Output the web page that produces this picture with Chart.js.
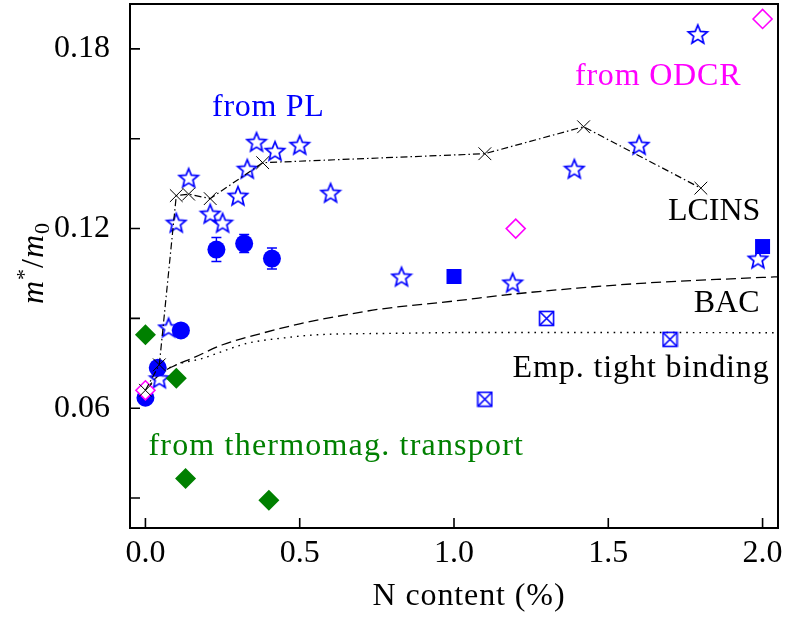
<!DOCTYPE html>
<html lang="en">
<head>
<meta charset="UTF-8">
<title>Electron effective mass vs N content</title>
<script src="https://cdn.jsdelivr.net/npm/chart.js"></script>
<style>
  html, body { margin: 0; padding: 0; background: #fff; }
  #wrap { width: 785px; height: 617px; position: relative; }
</style>
</head>
<body>
<div id="wrap"><canvas id="massChart"></canvas></div>
<script>
  // N content (%) and m*/m0, one pair of arrays per group of measurements
  const plStarX = [0.045, 0.075, 0.10, 0.14, 0.21, 0.25, 0.30, 0.33, 0.36, 0.42, 0.50, 0.60, 0.83, 1.19, 1.39, 1.60, 1.79, 1.985];
  const plStarY = [0.070, 0.087, 0.122, 0.137, 0.125, 0.122, 0.131, 0.140, 0.149, 0.146, 0.148, 0.132, 0.104, 0.102, 0.140, 0.148, 0.185, 0.110];
  const plDotX = [0.0, 0.04, 0.115, 0.23, 0.32, 0.41];
  const plDotY = [0.0635, 0.0735, 0.086, 0.113, 0.115, 0.110];
  const plDotErr = [0, 0, 0, 0.004, 0.003, 0.0035];
  const plSquareX = [1.0, 2.0];
  const plSquareY = [0.104, 0.114];
  const plBoxX = [1.1, 1.3, 1.7];
  const plBoxY = [0.063, 0.090, 0.083];
  const odcrX = [0.0, 1.2, 2.0];
  const odcrY = [0.066, 0.120, 0.190];
  const transportX = [0.0, 0.1, 0.13, 0.4];
  const transportY = [0.0845, 0.070, 0.0365, 0.0293];

  // calculated curves
  const lcinsX = [0.0, 0.045, 0.10, 0.14, 0.21, 0.38, 1.10, 1.42, 1.80];
  const lcinsY = [0.066, 0.0745, 0.131, 0.1315, 0.130, 0.142, 0.145, 0.154, 0.1335];
  const bacX = [0.0, 0.045, 0.10, 0.15, 0.25, 0.38, 0.50, 0.65, 0.76, 1.0, 1.19, 1.40, 1.62, 1.85, 2.05];
  const bacY = [0.066, 0.0712, 0.0745, 0.0766, 0.0812, 0.0851, 0.0882, 0.0912, 0.0931, 0.0958, 0.0981, 0.1001, 0.1018, 0.1030, 0.1039];
  const tbX = [0.0, 0.045, 0.10, 0.18, 0.25, 0.33, 0.45, 0.55, 0.80, 1.07, 1.50, 2.05];
  const tbY = [0.066, 0.0712, 0.0745, 0.0765, 0.0790, 0.0817, 0.0835, 0.0845, 0.0850, 0.0853, 0.0853, 0.0852];

  // axes
  const xTicks = [0.0, 0.5, 1.0, 1.5, 2.0];
  const yTicks = [0.03, 0.06, 0.09, 0.12, 0.15, 0.18];
  const yTickLabels = [0.06, 0.12, 0.18];

  const BLUE = '#0000ff', MAGENTA = '#ff00ff', GREEN = '#008000';
  const SERIF = '"Liberation Serif", "Times New Roman", serif';

  const pts = (xs, ys) => xs.map((x, i) => ({ x: x, y: ys[i] }));

  // open five-pointed star marker
  function starMarker(color) {
    const c = document.createElement('canvas');
    c.width = 24; c.height = 24;
    const g = c.getContext('2d');
    g.beginPath();
    for (let k = 0; k < 10; k++) {
      const r = k % 2 ? 4.4 : 10;
      const a = -Math.PI / 2 + k * Math.PI / 5;
      g.lineTo(12 + r * Math.cos(a), 13 + r * Math.sin(a));
    }
    g.closePath();
    g.strokeStyle = color;
    g.lineWidth = 1.7;
    g.stroke();
    return c;
  }

  // square with a cross inside
  function boxCrossMarker(color) {
    const c = document.createElement('canvas');
    c.width = 17; c.height = 17;
    const g = c.getContext('2d');
    g.strokeStyle = color;
    g.lineWidth = 1.6;
    g.strokeRect(1.5, 1.5, 14, 14);
    g.beginPath();
    g.moveTo(1.5, 1.5); g.lineTo(15.5, 15.5);
    g.moveTo(15.5, 1.5); g.lineTo(1.5, 15.5);
    g.stroke();
    return c;
  }

  const notes = [
    { text: 'from PL', x: 0.216, y: 0.1577, color: BLUE, align: 'left', spacing: 0.7 },
    { text: 'from ODCR', x: 1.392, y: 0.168, color: MAGENTA, align: 'left', spacing: 0.8 },
    { text: 'LCINS', x: 1.993, y: 0.1227, color: '#000', align: 'right', spacing: 0 },
    { text: 'BAC', x: 1.99, y: 0.0923, color: '#000', align: 'right', spacing: 0 },
    { text: 'Emp. tight binding', x: 2.023, y: 0.0704, color: '#000', align: 'right', spacing: 0.9 },
    { text: 'from thermomag. transport', x: 0.0097, y: 0.0444, color: GREEN, align: 'left', spacing: 1.2 }
  ];

  const errorBars = {
    id: 'errorBars',
    beforeDatasetsDraw(chart) {
      const { ctx, scales: { x, y } } = chart;
      ctx.save();
      ctx.strokeStyle = BLUE;
      ctx.lineWidth = 1.4;
      plDotX.forEach((v, i) => {
        if (!plDotErr[i]) return;
        const px = x.getPixelForValue(v);
        const top = y.getPixelForValue(plDotY[i] + plDotErr[i]);
        const bot = y.getPixelForValue(plDotY[i] - plDotErr[i]);
        ctx.beginPath();
        ctx.moveTo(px, top); ctx.lineTo(px, bot);
        ctx.moveTo(px - 5, top); ctx.lineTo(px + 5, top);
        ctx.moveTo(px - 5, bot); ctx.lineTo(px + 5, bot);
        ctx.stroke();
      });
      ctx.restore();
    }
  };

  const frameAndText = {
    id: 'frameAndText',
    afterDraw(chart) {
      const { ctx, chartArea: a, scales: { x, y } } = chart;
      ctx.save();
      // inward tick marks
      ctx.strokeStyle = '#000';
      ctx.lineWidth = 1.6;
      ctx.beginPath();
      xTicks.forEach(v => {
        const px = x.getPixelForValue(v);
        ctx.moveTo(px, a.bottom); ctx.lineTo(px, a.bottom - 10);
      });
      yTicks.forEach(v => {
        const py = y.getPixelForValue(v);
        ctx.moveTo(a.left, py); ctx.lineTo(a.left + 10, py);
      });
      ctx.stroke();
      // frame
      ctx.lineWidth = 2;
      ctx.strokeRect(a.left, a.top, a.right - a.left, a.bottom - a.top);

      // labels inside the plot
      ctx.font = '32px ' + SERIF;
      ctx.textBaseline = 'alphabetic';
      notes.forEach(n => {
        ctx.letterSpacing = n.spacing + 'px';
        ctx.fillStyle = n.color;
        ctx.textAlign = n.align;
        ctx.fillText(n.text, x.getPixelForValue(n.x), y.getPixelForValue(n.y));
      });

      // x title
      ctx.letterSpacing = '0.9px';
      ctx.fillStyle = '#000';
      ctx.textAlign = 'center';
      ctx.fillText('N content (%)', 469, 605);

      // y title: m*/m0
      ctx.letterSpacing = '0px';
      ctx.translate(43, 263);
      ctx.rotate(-Math.PI / 2);
      const parts = [
        { t: 'm', f: 'italic 32px ' + SERIF, dy: 0 },
        { t: '*', f: '22px ' + SERIF, dy: -12 },
        { t: '/', f: '32px ' + SERIF, dy: 0 },
        { t: 'm', f: 'italic 32px ' + SERIF, dy: 0 },
        { t: '0', f: '22px ' + SERIF, dy: 6 }
      ];
      let total = 0;
      parts.forEach(p => { ctx.font = p.f; p.w = ctx.measureText(p.t).width + 1; total += p.w; });
      let cx = -total / 2;
      ctx.textAlign = 'left';
      parts.forEach(p => {
        ctx.font = p.f;
        ctx.fillText(p.t, cx, p.dy);
        cx += p.w;
      });
      ctx.restore();
    }
  };

  const tickFont = { family: SERIF, size: 32 };

  new Chart(document.getElementById('massChart'), {
    type: 'scatter',
    data: {
      datasets: [
        {
          label: 'LCINS', data: pts(lcinsX, lcinsY), showLine: true,
          borderColor: '#000', borderWidth: 1.2, borderDash: [7, 3, 1.5, 3],
          pointStyle: 'crossRot', pointRadius: 9, pointBorderWidth: 1, pointBorderColor: '#000',
          pointBackgroundColor: 'transparent', tension: 0
        },
        {
          label: 'ODCR', data: pts(odcrX, odcrY),
          pointStyle: 'rectRot', pointRadius: 9.5, pointBorderWidth: 1.6,
          pointBorderColor: MAGENTA, pointBackgroundColor: '#fff'
        },
        {
          label: 'thermomagnetic transport', data: pts(transportX, transportY),
          pointStyle: 'rectRot', pointRadius: 10.5, pointBorderWidth: 0,
          pointBackgroundColor: GREEN, pointBorderColor: GREEN
        },
        {
          label: 'PL (boxed)', data: pts(plBoxX, plBoxY),
          pointStyle: boxCrossMarker(BLUE)
        },
        {
          label: 'PL (squares)', data: pts(plSquareX, plSquareY),
          pointStyle: 'rect', pointRadius: 10.6, pointBorderWidth: 0,
          pointBackgroundColor: BLUE, pointBorderColor: BLUE
        },
        {
          label: 'PL (stars)', data: pts(plStarX, plStarY),
          pointStyle: starMarker(BLUE)
        },
        {
          label: 'PL (dots)', data: pts(plDotX, plDotY),
          pointStyle: 'circle', pointRadius: 9, pointBorderWidth: 0,
          pointBackgroundColor: BLUE, pointBorderColor: BLUE
        },
        {
          label: 'BAC', data: pts(bacX, bacY), showLine: true,
          borderColor: '#000', borderWidth: 1.3, borderDash: [10, 5],
          pointRadius: 0, cubicInterpolationMode: 'monotone'
        },
        {
          label: 'Emp. tight binding', data: pts(tbX, tbY), showLine: true,
          borderColor: '#000', borderWidth: 1.4, borderDash: [1.6, 5],
          pointRadius: 0, cubicInterpolationMode: 'monotone'
        }
      ]
    },
    options: {
      responsive: true,
      maintainAspectRatio: false,
      animation: false,
      events: [],
      layout: { autoPadding: false, padding: { top: 4, right: 7, left: 0, bottom: 0 } },
      plugins: { legend: { display: false }, tooltip: { enabled: false } },
      scales: {
        x: {
          type: 'linear', min: -0.05, max: 2.05,
          grid: { display: false, drawTicks: false },
          border: { display: false },
          afterBuildTicks: ax => { ax.ticks = xTicks.map(v => ({ value: v })); },
          afterFit: ax => { ax.height = 89; ax.paddingLeft = 0; ax.paddingRight = 0; },
          ticks: {
            font: tickFont, color: '#000', padding: 6, maxRotation: 0, autoSkip: false,
            callback: v => v.toFixed(1)
          }
        },
        y: {
          type: 'linear', min: 0.02, max: 0.195,
          grid: { display: false, drawTicks: false },
          border: { display: false },
          afterBuildTicks: ax => { ax.ticks = yTicks.map(v => ({ value: v })); },
          afterFit: ax => { ax.width = 130; ax.paddingTop = 0; ax.paddingBottom = 0; },
          ticks: {
            font: tickFont, color: '#000', padding: 20, autoSkip: false,
            callback: v => yTickLabels.some(l => Math.abs(l - v) < 1e-6) ? v.toFixed(2) : ''
          }
        }
      }
    },
    plugins: [errorBars, frameAndText]
  });
</script>
</body>
</html>
